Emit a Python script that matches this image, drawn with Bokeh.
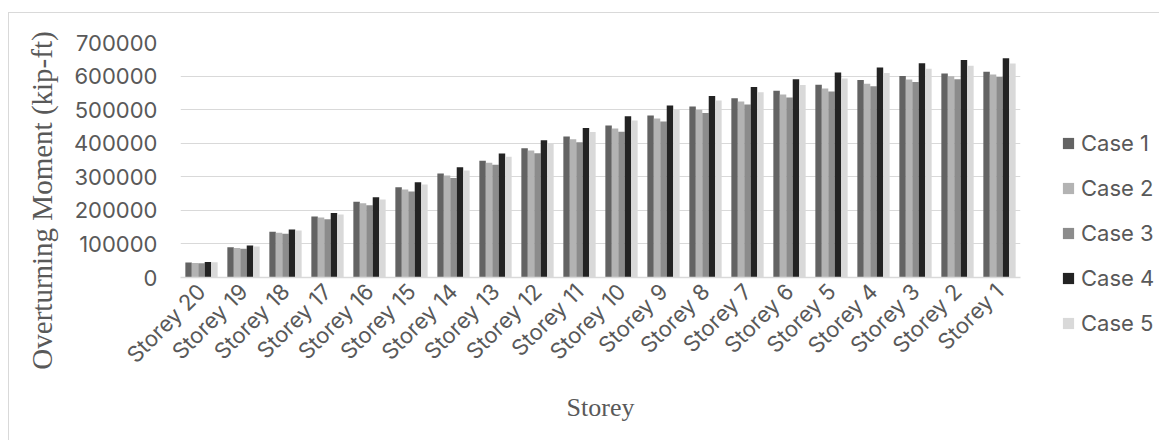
import math
from bokeh.plotting import figure
from bokeh.layouts import row
from bokeh.models import (ColumnDataSource, FactorRange, Range1d, FixedTicker, Legend, LegendItem,
                          Label, BasicTickFormatter)
from bokeh.transform import dodge
from bokeh.embed import file_html
from bokeh.resources import INLINE

storeys = ["Storey 20", "Storey 19", "Storey 18", "Storey 17", "Storey 16", "Storey 15", "Storey 14",
           "Storey 13", "Storey 12", "Storey 11", "Storey 10", "Storey 9", "Storey 8", "Storey 7",
           "Storey 6", "Storey 5", "Storey 4", "Storey 3", "Storey 2", "Storey 1"]
case1 = [44500, 90000, 136000, 181500, 226000, 268500, 309500, 348000, 385000, 420000, 452500,
         482500, 509000, 534000, 556500, 574000, 588500, 600500, 608000, 613000]
case2 = [43500, 88000, 133000, 178500, 221000, 262000, 303500, 341500, 378000, 412000, 443500,
         473500, 500000, 524000, 545000, 563000, 577500, 589500, 599500, 604500]
case3 = [42500, 86000, 130000, 173500, 215500, 256500, 296500, 335500, 370000, 403000, 434500,
         464500, 490000, 515000, 536000, 554000, 569500, 582500, 590500, 597500]
case4 = [46500, 95000, 143000, 192500, 239000, 284000, 328500, 369000, 409000, 445500, 480500,
         512000, 541000, 567500, 590500, 610500, 625500, 638000, 648000, 653000]
case5 = [45500, 92000, 140000, 187500, 232000, 277000, 318500, 360000, 400000, 433500, 467500,
         500500, 527000, 552000, 573500, 592500, 609500, 621500, 630500, 637500]
series_names = ["Case 1", "Case 2", "Case 3", "Case 4", "Case 5"]
y_ticks = [0, 100000, 200000, 300000, 400000, 500000, 600000, 700000]

colors = ["#636363", "#b3b3b3", "#8c8c8c", "#232323", "#d9d9d9"]
text_color = "#595959"
grid_color = "#d9d9d9"
keys = ["c1", "c2", "c3", "c4", "c5"]

source = ColumnDataSource(dict(storey=storeys, c1=case1, c2=case2, c3=case3, c4=case4, c5=case5))

H = 427
Wp = 1021
p = figure(x_range=FactorRange(*storeys), y_range=Range1d(0, 700000),
           width=Wp, height=H, output_backend="svg", toolbar_location=None,
           min_border_left=171, min_border_right=10, min_border_top=29, min_border_bottom=163)
p.frame_align = False
p.outline_line_color = None
p.background_fill_color = "white"
p.border_fill_color = "white"

bw = 0.1538
offsets = [-2 * bw, -bw, 0, bw, 2 * bw]
for key, col, off in zip(keys, colors, offsets):
    p.vbar(x=dodge("storey", off, range=p.x_range), top=key, width=bw, source=source,
           fill_color=col, line_color=None)

# y axis
p.yaxis.ticker = FixedTicker(ticks=y_ticks)
p.yaxis.formatter = BasicTickFormatter(use_scientific=False)
p.yaxis.axis_line_color = None
p.yaxis.major_tick_line_color = None
p.yaxis.minor_tick_line_color = None
p.yaxis.major_tick_out = 0
p.yaxis.major_tick_in = 0
p.yaxis.major_label_standoff = 23
p.yaxis.major_label_text_font = "Inter"
p.yaxis.major_label_text_font_size = "22px"
p.yaxis.major_label_text_color = text_color

# x axis
p.xaxis.axis_line_color = grid_color
p.xaxis.axis_line_width = 1.5
p.xaxis.major_tick_line_color = None
p.xaxis.minor_tick_line_color = None
p.xaxis.major_tick_out = 0
p.xaxis.major_tick_in = 0
p.xaxis.major_label_orientation = math.pi / 4
p.xaxis.major_label_standoff = 10
p.xaxis.major_label_text_font = "Inter"
p.xaxis.major_label_text_font_size = "22px"
p.xaxis.major_label_text_color = text_color
p.xaxis.axis_label = "Storey"
p.xaxis.axis_label_text_font = "Liberation Serif"
p.xaxis.axis_label_text_font_style = "normal"
p.xaxis.axis_label_text_font_size = "26px"
p.xaxis.axis_label_text_color = text_color
p.xaxis.axis_label_standoff = 13

p.xgrid.grid_line_color = None
p.ygrid.grid_line_color = grid_color
p.ygrid.grid_line_width = 1

# y axis title (offset from frame centre, as in the reference)
p.add_layout(Label(x=3, y=77, x_units="screen", y_units="screen", text="Overturning Moment (kip-ft)",
                   angle=math.pi / 2, text_align="center", text_baseline="middle",
                   text_font="Liberation Serif", text_font_size="29px", text_color=text_color), "left")

# legend panel (its zero-width bars lie outside its view; only the legend shows)
lf = figure(x_range=FactorRange(*storeys), y_range=Range1d(-2, -1),
            width=1150 - Wp, height=H, output_backend="svg", toolbar_location=None,
            x_axis_location=None, y_axis_location=None,
            min_border_left=0, min_border_right=0, min_border_top=0, min_border_bottom=0)
lf.frame_align = False
lf.outline_line_color = None
lf.xgrid.grid_line_color = None
lf.ygrid.grid_line_color = None
lf.border_fill_color = "white"
lf.background_fill_color = "white"
items = []
for key, name, col in zip(keys, series_names, colors):
    r = lf.vbar(x="storey", top=key, width=0, source=source, fill_color=col, line_color=None)
    items.append(LegendItem(label=name, renderers=[r]))

legend = Legend(items=items, location=(31, 104), orientation="vertical",
                glyph_width=14, glyph_height=14, label_height=27, label_standoff=6, spacing=18,
                padding=0, margin=0, border_line_color=None, background_fill_alpha=0,
                label_text_font="Inter", label_text_font_size="22px", label_text_color=text_color)
lf.add_layout(legend, "center")

layout = row(p, lf)
layout.margin = (12, 0, 0, 8)
layout.styles = {"border-top": "1px solid #d9d9d9", "border-left": "1px solid #d9d9d9"}

open("out.html", "w").write(file_html(layout, INLINE))
